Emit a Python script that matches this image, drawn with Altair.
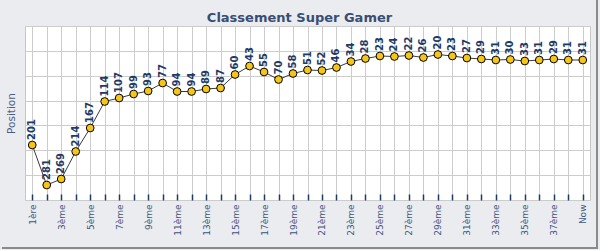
import altair as alt
import pandas as pd

categories = ["1ère", "2ème", "3ème", "4ème", "5ème", "6ème", "7ème", "8ème", "9ème", "10ème",
              "11ème", "12ème", "13ème", "14ème", "15ème", "16ème", "17ème", "18ème", "19ème", "20ème",
              "21ème", "22ème", "23ème", "24ème", "25ème", "26ème", "27ème", "28ème", "29ème", "30ème",
              "31ème", "32ème", "33ème", "34ème", "35ème", "36ème", "37ème", "38ème", "Now"]
positions = [201, 281, 269, 214, 167, 114, 107, 99, 93, 77,
             94, 94, 89, 87, 60, 43, 55, 70, 58, 51,
             52, 46, 34, 28, 23, 24, 22, 26, 20, 23,
             27, 29, 31, 30, 33, 31, 29, 31, 31]
shown_labels = ["1ère", "3ème", "5ème", "7ème", "9ème", "11ème", "13ème", "15ème", "17ème", "19ème",
                "21ème", "23ème", "25ème", "27ème", "29ème", "31ème", "33ème", "35ème", "37ème", "Now"]
y_domain = [-37, 311]
y_grid = [-37, 12.7, 62.4, 112.1, 161.9, 211.6, 261.3, 311]

df = pd.DataFrame({"cat": categories, "pos": positions})

label_list = "[" + ",".join("'" + s + "'" for s in shown_labels) + "]"

FONT = "DejaVu Sans"

x_enc = alt.X(
    "cat:N",
    sort=categories,
    scale=alt.Scale(type="point", padding=0.5),
    axis=alt.Axis(
        title=None,
        labelAngle=270,
        labelExpr="indexof(" + label_list + ", datum.value) >= 0 ? datum.label : ''",
        labelFont=FONT,
        labelFontSize=9,
        labelColor="#3d5583",
        labelPadding=4,
        grid=True,
        gridColor="#cccccc",
        gridWidth=1,
        domain=False,
        ticks=True,
        tickColor="#1e3a66",
        tickSize=6,
        tickWidth=1.5,
        offset=-6,
        labelOverlap=False,
    ),
)
y_enc = alt.Y(
    "pos:Q",
    scale=alt.Scale(domain=y_domain, reverse=True, nice=False, zero=False),
    axis=alt.Axis(
        values=y_grid,
        grid=True,
        gridColor="#cccccc",
        gridWidth=1,
        labels=False,
        ticks=False,
        domain=False,
        title="Position",
        titleFont=FONT,
        titleFontSize=10.5,
        titleFontWeight="normal",
        titleColor="#4a5f88",
        titlePadding=9,
    ),
)

base = alt.Chart(df).encode(x=x_enc, y=y_enc)

line = base.mark_line(color="#3a3a3a", strokeWidth=1)
points = base.mark_point(filled=True, fill="#f5c518", stroke="#000000", strokeWidth=1, size=60, opacity=1)
labels = base.mark_text(
    angle=270, align="left", baseline="middle", dx=5,
    font=FONT, fontSize=10, fontWeight="bold", color="#1e3a66",
).encode(text="pos:Q")

frame_df = pd.DataFrame({"k": [0]})
right_edge = alt.Chart(frame_df).mark_rule(color="#8a8a8a", strokeWidth=2).encode(
    x=alt.value(572), y=alt.value(-26), y2=alt.value(222))
bottom_edge = alt.Chart(frame_df).mark_rule(color="#8a8a8a", strokeWidth=2).encode(
    x=alt.value(-23), x2=alt.value(573), y=alt.value(222))

chart = alt.layer(line, points, labels, right_edge, bottom_edge).properties(
    width=565,
    height=174,
    autosize=alt.AutoSizeParams(type="none"),
    padding={"left": 25, "top": 26, "right": 10, "bottom": 50},
    background="#ebecef",
    title=alt.TitleParams(
        "Classement Super Gamer",
        font=FONT, fontSize=13, fontWeight="bold", color="#394e75",
        anchor="middle", frame="group", offset=7, dx=-8, dy=43, baseline="alphabetic",
    ),
).configure_view(fill="#ffffff", stroke="#c6c6c6", strokeWidth=1)

chart.save("out.html", embed_options={"renderer": "svg", "actions": False})
